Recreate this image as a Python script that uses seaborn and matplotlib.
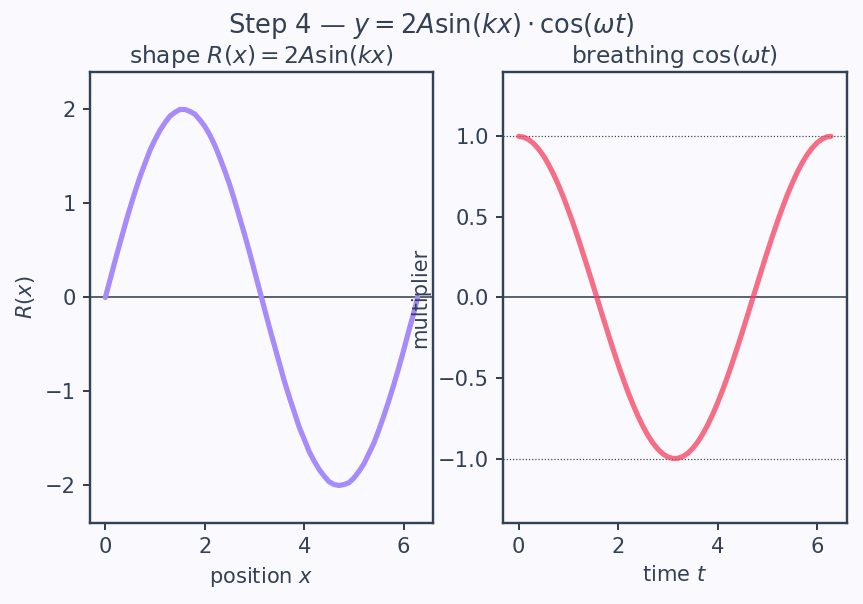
import matplotlib
matplotlib.use("Agg")
import matplotlib.pyplot as plt
import seaborn as sns
import pandas as pd

# ---- data ----
x_pos = [0.0, 0.1, 0.2, 0.3, 0.4, 0.5, 0.6, 0.7, 0.8, 0.9,
         1.0, 1.1, 1.2, 1.3, 1.4, 1.5, 1.6, 1.7, 1.8, 1.9,
         2.0, 2.1, 2.2, 2.3, 2.4, 2.5, 2.6, 2.7, 2.8, 2.9,
         3.0, 3.1, 3.2, 3.3, 3.4, 3.5, 3.6, 3.7, 3.8, 3.9,
         4.0, 4.1, 4.2, 4.3, 4.4, 4.5, 4.6, 4.7, 4.8, 4.9,
         5.0, 5.1, 5.2, 5.3, 5.4, 5.5, 5.6, 5.7, 5.8, 5.9,
         6.0, 6.1, 6.2, 6.28]
shape_R = [0.00, 0.20, 0.40, 0.59, 0.78, 0.96, 1.13, 1.29, 1.43, 1.57,
           1.68, 1.78, 1.86, 1.93, 1.97, 2.00, 2.00, 1.98, 1.95, 1.89,
           1.82, 1.73, 1.62, 1.49, 1.35, 1.20, 1.03, 0.85, 0.67, 0.48,
           0.28, 0.08, -0.12, -0.32, -0.51, -0.70, -0.89, -1.06, -1.22, -1.38,
           -1.51, -1.64, -1.74, -1.83, -1.90, -1.96, -1.99, -2.00, -1.99, -1.97,
           -1.92, -1.85, -1.77, -1.66, -1.55, -1.41, -1.26, -1.10, -0.93, -0.75,
           -0.56, -0.36, -0.17, 0.00]
t_time = list(x_pos)
breathing = [1.000, 0.995, 0.980, 0.955, 0.921, 0.878, 0.825, 0.765, 0.697, 0.622,
             0.540, 0.454, 0.362, 0.267, 0.170, 0.071, -0.029, -0.129, -0.227, -0.323,
             -0.416, -0.505, -0.589, -0.666, -0.737, -0.801, -0.857, -0.904, -0.942, -0.971,
             -0.990, -0.999, -0.998, -0.987, -0.967, -0.936, -0.897, -0.848, -0.791, -0.726,
             -0.654, -0.575, -0.490, -0.401, -0.307, -0.211, -0.112, -0.012, 0.087, 0.187,
             0.284, 0.378, 0.469, 0.554, 0.635, 0.709, 0.776, 0.835, 0.886, 0.927,
             0.960, 0.983, 0.997, 1.000]

TEXT = "#334155"
BG = "#fafafe"

sns.set_theme(style="ticks")
plt.rcParams.update({
    "figure.facecolor": BG,
    "axes.facecolor": BG,
    "axes.edgecolor": TEXT,
    "axes.linewidth": 1.2,
    "axes.labelcolor": TEXT,
    "text.color": TEXT,
    "xtick.color": TEXT,
    "ytick.color": TEXT,
    "xtick.labelsize": 10.5,
    "ytick.labelsize": 10.5,
    "axes.labelsize": 10.5,
    "axes.titlesize": 11.7,
    "axes.grid": False,
})
plt.rcParams["font.family"] = ["DejaVu Sans"]

fig, (ax1, ax2) = plt.subplots(1, 2, figsize=(863 / 144, 604 / 144), dpi=144)
fig.subplots_adjust(left=0.104, right=0.981, bottom=0.134, top=0.881, wspace=0.2035)

df1 = pd.DataFrame({"x": x_pos, "R": shape_R})
df2 = pd.DataFrame({"t": t_time, "m": breathing})

ax1.axhline(0, color="#4b5563", lw=0.9, zorder=1)
sns.lineplot(data=df1, x="x", y="R", ax=ax1, color="#a78bfa", lw=2.6, sort=False, zorder=3)
ax1.set_ylim(-2.4, 2.4)
ax1.set_xlabel("position $x$")
ax1.set_ylabel("$R(x)$")
ax1.set_title("shape $R(x) = 2A\\sin(kx)$", pad=4.5)
ax1.set_yticks([-2, -1, 0, 1, 2])

ax2.axhline(0, color="#4b5563", lw=0.9, zorder=1)
ax2.axhline(1, color=TEXT, lw=0.6, ls=":", zorder=1)
ax2.axhline(-1, color=TEXT, lw=0.6, ls=":", zorder=1)
sns.lineplot(data=df2, x="t", y="m", ax=ax2, color="#f43f5e", alpha=0.75, lw=2.6, sort=False, zorder=3)
ax2.set_ylim(-1.4, 1.4)
ax2.set_xlabel("time $t$")
ax2.set_ylabel("multiplier")
ax2.set_title("breathing $\\cos(\\omega t)$", pad=4.5)
ax2.set_yticks([-1.0, -0.5, 0.0, 0.5, 1.0])

for ax in (ax1, ax2):
    ax.set_xticks([0, 2, 4, 6])
    ax.tick_params(length=3.5, width=1)

fig.suptitle("Step 4 — $y = 2A\\sin(kx)\\cdot\\cos(\\omega t)$", fontsize=12.9, y=0.982)

fig.savefig("out.png", dpi=144, facecolor=BG)
